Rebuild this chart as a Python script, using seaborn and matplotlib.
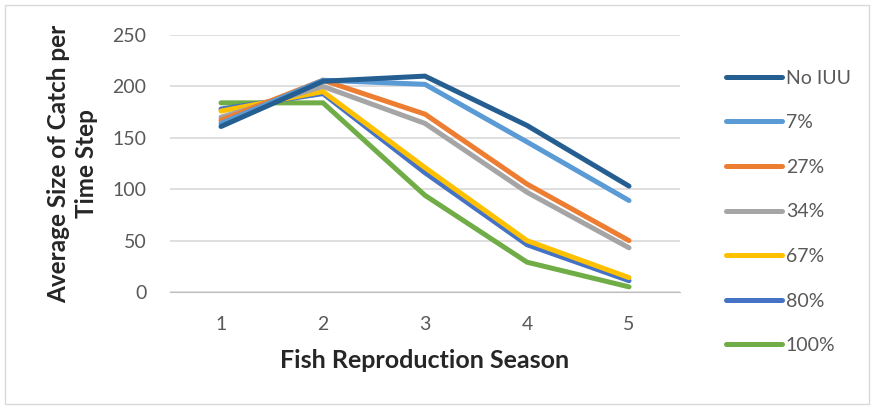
import numpy as np
import pandas as pd
import matplotlib.pyplot as plt
import seaborn as sns
from matplotlib.patches import Rectangle

seasons = [1, 2, 3, 4, 5]
scenarios = ['No IUU', '7%', '27%', '34%', '67%', '80%', '100%']
no_iuu = [161, 205, 210, 162, 103]
p7 = [164, 206, 202, 146, 89]
p27 = [167, 206, 173, 105, 50]
p34 = [170, 200, 164, 97, 43]
p67 = [176, 195, 121, 50, 14]
p80 = [178, 193, 116, 46, 11]
p100 = [184, 184, 94, 29, 5]
colors = ['#255E91', '#5B9BD5', '#ED7D31', '#A5A5A5', '#FFC000', '#4472C4', '#70AD47']

rows = []
for name, vals in zip(scenarios, [no_iuu, p7, p27, p34, p67, p80, p100]):
    for s, v in zip(seasons, vals):
        rows.append({'season': s, 'catch': v, 'scenario': name})
df = pd.DataFrame(rows)

sns.set_style('white')
plt.rcParams['font.family'] = ['Lato', 'DejaVu Sans']

fig = plt.figure(figsize=(8.74, 4.08), dpi=100)
ax = fig.add_axes([170 / 874, 1 - 292 / 408, 510 / 874, 257 / 408])

# draw in reverse so No IUU sits on top like the original
for name, col in reversed(list(zip(scenarios, colors))):
    sns.lineplot(data=df[df.scenario == name], x='season', y='catch', color=col,
                 lw=3.6, ax=ax, legend=False, solid_capstyle='round', solid_joinstyle='miter')

ax.set_xlim(0.5, 5.5)
ax.set_ylim(0, 250)
ax.set_xticks(seasons)
ax.set_yticks([0, 50, 100, 150, 200, 250])
ax.yaxis.grid(True, color='#D9D9D9', lw=1.2)
ax.set_axisbelow(True)
for sp in ['top', 'right', 'left']:
    ax.spines[sp].set_visible(False)
ax.spines['bottom'].set_color('#BFBFBF')
ax.tick_params(axis='both', length=0, labelsize=14, labelcolor='#595959')
ax.tick_params(axis='y', pad=17)
ax.tick_params(axis='x', pad=17)
ax.set_xlabel('Fish Reproduction Season', fontsize=18, fontweight='bold', labelpad=12)
ax.set_ylabel('Average Size of Catch per\nTime Step', fontsize=17.5, fontweight='bold',
              labelpad=10, linespacing=1.3)

handles = [plt.Line2D([], [], color=c, lw=3.6, solid_capstyle='round') for c in colors]
leg = fig.legend(handles, scenarios, loc='upper left', bbox_to_anchor=(708 / 874, 1 - 52 / 408),
                 frameon=False, fontsize=14, labelspacing=1.42, handlelength=2.9,
                 handletextpad=0.2)
for t in leg.get_texts():
    t.set_color('#595959')

fig.patches.append(Rectangle((5 / 874, 4 / 408), 864 / 874, 399 / 408, transform=fig.transFigure,
                             fill=False, edgecolor='#D9D9D9', lw=1))

fig.savefig('out.png', dpi=100)
